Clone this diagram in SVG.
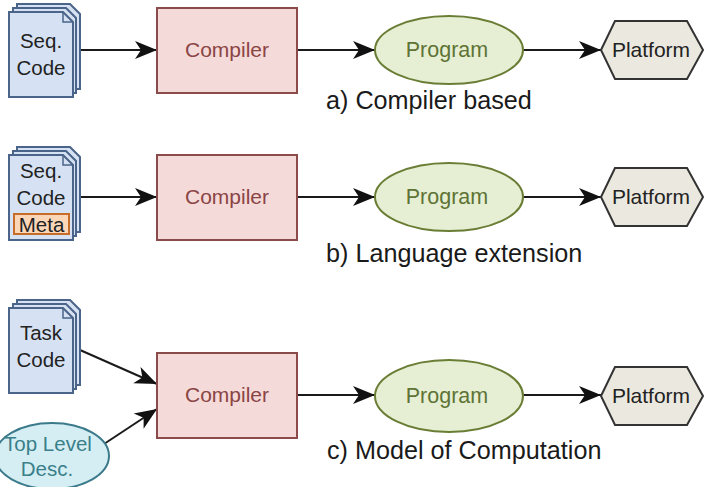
<svg xmlns="http://www.w3.org/2000/svg" width="711" height="487" viewBox="0 0 711 487">
<defs>
<style>
text{font-family:"Liberation Sans",Arial,sans-serif;font-size:20.5px;text-anchor:middle}
.page{fill:#d6e2f3;stroke:#4b6489;stroke-width:2}
.comp rect{fill:#f5dada;stroke:#8c4b4b;stroke-width:2}
.comp text{fill:#8a4545;font-size:21px}
.prog ellipse{fill:#e6efd3;stroke:#6a7d35;stroke-width:2}
.prog text{fill:#5e7335;font-size:21.5px}
.plat polygon{fill:#ebe9df;stroke:#333;stroke-width:2}
.plat text{fill:#222;font-size:21px}
.doc text{fill:#222}
.lbl{font-size:25.2px;fill:#1a1a1a;text-anchor:start}
.edge{stroke:#1a1a1a;stroke-width:2;fill:none;marker-end:url(#ah)}
</style>
<marker id="ah" markerUnits="userSpaceOnUse" markerWidth="24" markerHeight="20" viewBox="0 0 24 20" refX="23" refY="10" orient="auto">
<path d="M1,1 L23,10 L1,19 L7,10 Z" fill="#111"/>
</marker>
<g id="stack">
<path class="page" d="M17,4 H70 L80,14 V89 H17 Z"/>
<path class="page" d="M13,8 H66 L76,18 V93 H13 Z"/>
<path class="page" d="M9,12 H63 L73,22 V97 H9 Z"/>
<path d="M63,12 V22 H73" fill="none" stroke="#4b6489" stroke-width="1.5"/>
</g>
</defs>

<g id="connectors">
<line class="edge" x1="74" y1="50" x2="157" y2="50"/>
<line class="edge" x1="298" y1="50" x2="375" y2="50"/>
<line class="edge" x1="523" y1="50" x2="601" y2="50"/>
<line class="edge" x1="74" y1="197" x2="157" y2="197"/>
<line class="edge" x1="298" y1="197" x2="375" y2="197"/>
<line class="edge" x1="523" y1="197" x2="601" y2="197"/>
<line class="edge" x1="80" y1="350" x2="157" y2="384"/>
<line class="edge" x1="104" y1="444" x2="157" y2="409"/>
<line class="edge" x1="298" y1="395" x2="375" y2="395"/>
<line class="edge" x1="523" y1="395" x2="601" y2="395"/>
</g>

<g id="doc-a" class="doc">
<use href="#stack"/>
<text x="41" y="48">Seq.</text>
<text x="41" y="75">Code</text>
</g>
<g id="compiler-a" class="comp"><rect x="157" y="8" width="140" height="85"/><text x="227" y="57">Compiler</text></g>
<g id="program-a" class="prog"><ellipse cx="449" cy="50" rx="74" ry="34"/><text x="447" y="57">Program</text></g>
<g id="platform-a" class="plat"><polygon points="601,50 615,21 687,21 703,50 687,79 615,79"/><text x="651" y="57">Platform</text></g>
<text id="label-a" class="lbl" x="326" y="109">a) Compiler based</text>

<g id="doc-b" class="doc">
<use href="#stack" y="143"/>
<text x="41" y="178">Seq.</text>
<text x="41" y="205">Code</text>
<g id="meta"><rect x="14" y="214" width="55" height="20" fill="#fbd7b8" stroke="#c66d2a" stroke-width="2"/><text x="41.5" y="232" fill="#c4621d">Meta</text></g>
</g>
<g id="compiler-b" class="comp"><rect x="157" y="155" width="140" height="85"/><text x="227" y="204">Compiler</text></g>
<g id="program-b" class="prog"><ellipse cx="449" cy="197" rx="74" ry="34"/><text x="447" y="204">Program</text></g>
<g id="platform-b" class="plat"><polygon points="601,197 615,168 687,168 703,197 687,226 615,226"/><text x="651" y="204">Platform</text></g>
<text id="label-b" class="lbl" x="326" y="262">b) Language extension</text>

<g id="doc-c" class="doc">
<use href="#stack" y="296"/>
<text x="41" y="340">Task</text>
<text x="41" y="367">Code</text>
</g>
<g id="toplevel"><ellipse cx="52" cy="456" rx="57" ry="33" fill="#d5eef3" stroke="#3b7a8a" stroke-width="2"/><text x="48" y="451" fill="#3a7f8a">Top Level</text><text x="47" y="476" fill="#3a7f8a">Desc.</text></g>
<g id="compiler-c" class="comp"><rect x="157" y="353" width="140" height="85"/><text x="227" y="402">Compiler</text></g>
<g id="program-c" class="prog"><ellipse cx="449" cy="396" rx="74" ry="36"/><text x="447" y="403">Program</text></g>
<g id="platform-c" class="plat"><polygon points="601,396 615,367 687,367 703,396 687,425 615,425"/><text x="651" y="403">Platform</text></g>
<text id="label-c" class="lbl" x="327" y="459">c) Model of Computation</text>
</svg>
